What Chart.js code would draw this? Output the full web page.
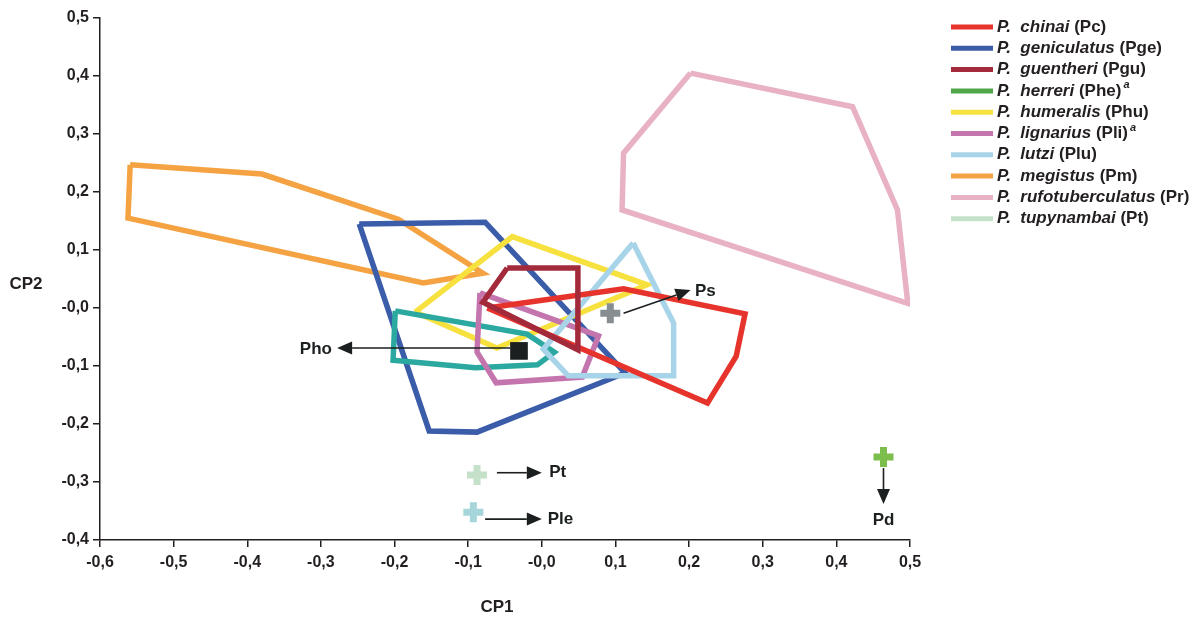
<!DOCTYPE html>
<html>
<head>
<meta charset="utf-8">
<script src="https://cdn.jsdelivr.net/npm/chart.js@4"></script>
<style>
  body { margin: 0; background: #fff; }
  #wrap { width: 1200px; height: 621px; position: relative; }
</style>
</head>
<body>
<div id="wrap"><canvas id="grafica-cp"></canvas></div>
<script>
// ticks
const xTicks = [-0.6, -0.5, -0.4, -0.3, -0.2, -0.1, 0, 0.1, 0.2, 0.3, 0.4, 0.5];
const xTickLabels = ['-0,6', '-0,5', '-0,4', '-0,3', '-0,2', '-0,1', '-0,0', '0,1', '0,2', '0,3', '0,4', '0,5'];
const yTicks = [-0.4, -0.3, -0.2, -0.1, 0, 0.1, 0.2, 0.3, 0.4, 0.5];
const yTickLabels = ['-0,4', '-0,3', '-0,2', '-0,1', '-0,0', '0,1', '0,2', '0,3', '0,4', '0,5'];

// legend
const speciesNames = ['P.  chinai', 'P.  geniculatus', 'P.  guentheri', 'P.  herreri', 'P.  humeralis',
  'P.  lignarius', 'P.  lutzi', 'P.  megistus', 'P.  rufotuberculatus', 'P.  tupynambai'];
const speciesCodes = ['Pc', 'Pge', 'Pgu', 'Phe', 'Phu', 'Pli', 'Plu', 'Pm', 'Pr', 'Pt'];
const speciesNotes = ['', '', '', 'a', '', 'a', '', '', '', ''];

// polygons (CP1, CP2)
const chinai = [[-0.074, 0.0], [0.111, 0.033], [0.276, -0.010], [0.264, -0.083], [0.225, -0.164]];
const geniculatus = [[-0.248, 0.145], [-0.077, 0.148], [0.113, -0.112], [-0.088, -0.214], [-0.153, -0.212]];
const guentheri = [[-0.047, 0.069], [0.049, 0.069], [0.049, -0.072], [-0.080, 0.010]];
const humeralis = [[-0.172, -0.007], [-0.040, 0.123], [0.143, 0.040], [-0.061, -0.069]];
const lignarius = [[-0.084, 0.026], [0.077, -0.048], [0.055, -0.119], [-0.062, -0.129], [-0.088, -0.076]];
const lutzi = [[0.124, 0.112], [0.179, -0.026], [0.179, -0.117], [0.036, -0.117], [0.002, -0.071]];
const megistus = [[-0.559, 0.247], [-0.380, 0.231], [-0.195, 0.153], [-0.080, 0.060], [-0.161, 0.043], [-0.562, 0.155]];
const rufotuberculatus = [[0.202, 0.405], [0.422, 0.347], [0.483, 0.169], [0.497, 0.008], [0.109, 0.169], [0.111, 0.267]];
const tealGroup = [[-0.199, -0.005], [-0.020, -0.045], [0.017, -0.076], [-0.006, -0.098], [-0.090, -0.103], [-0.202, -0.090]];

// single specimens
const singleCodes = ['Pho', 'Ps', 'Pt', 'Ple', 'Pd'];
const singlePoints = [[-0.031, -0.074], [0.093, -0.009], [-0.088, -0.288], [-0.093, -0.352], [0.464, -0.257]];
// arrows: from, to, label position
const arrowFrom = [[-0.043, -0.069], [0.111, -0.009], [-0.061, -0.284], [-0.077, -0.364], [0.464, -0.276]];
const arrowTo = [[-0.278, -0.069], [0.202, 0.031], [0.0, -0.284], [0.0, -0.364], [0.464, -0.338]];
const labelAt = [[-0.285, -0.071], [0.208, 0.028], [0.010, -0.284], [0.008, -0.364], [0.464, -0.366]];

const colores = {
  Pc: '#e6342c', Pge: '#3b5da9', Pgu: '#a32a3b', Phe: '#4fa748', Phu: '#f6e13f',
  Pli: '#c475ad', Plu: '#a8d4e9', Pm: '#f5a342', Pr: '#e8b2c4', Pt: '#c5e1ca', teal: '#2ba9a0'
};
const singleColors = ['#1b1f1f', '#878e92', '#c5e1ca', '#a6d6da', '#7cbe4b'];
const labelAlign = ['right', 'left', 'left', 'left', 'center'];

const toXY = pts => {
  const d = pts.map(p => ({ x: p[0], y: p[1] }));
  d.push({ x: pts[0][0], y: pts[0][1] });
  return d;
};

const polygon = (label, pts, color) => ({
  label: label,
  data: toXY(pts),
  showLine: true,
  borderColor: color,
  backgroundColor: color,
  borderWidth: 5.5,
  pointRadius: 0,
  fill: false,
  borderJoinStyle: 'miter'
});

const singles = singleCodes.map((c, i) => ({
  label: c,
  data: [{ x: singlePoints[i][0], y: singlePoints[i][1] }],
  pointStyle: c === 'Pho' ? 'rect' : 'cross',
  pointRadius: c === 'Pho' ? 12.5 : 10,
  borderWidth: c === 'Pho' ? 0 : 7,
  borderColor: singleColors[i],
  backgroundColor: singleColors[i]
}));

const datasets = [
  ...singles,
  polygon('P. guentheri', guentheri, colores.Pgu),
  polygon('P. chinai', chinai, colores.Pc),
  polygon('P. lutzi', lutzi, colores.Plu),
  polygon('P. lignarius', lignarius, colores.Pli),
  polygon('', tealGroup, colores.teal),
  polygon('P. humeralis', humeralis, colores.Phu),
  polygon('P. geniculatus', geniculatus, colores.Pge),
  polygon('P. megistus', megistus, colores.Pm),
  polygon('P. rufotuberculatus', rufotuberculatus, colores.Pr)
];

const fuente = '"Liberation Sans", Arial, sans-serif';

const anotaciones = {
  id: 'anotaciones',
  afterDatasetsDraw(chart) {
    const ctx = chart.ctx;
    const sx = chart.scales.x, sy = chart.scales.y;
    ctx.save();
    ctx.strokeStyle = '#1b1f1f';
    ctx.fillStyle = '#1b1f1f';
    ctx.lineWidth = 1.6;
    singleCodes.forEach((c, i) => {
      const x1 = sx.getPixelForValue(arrowFrom[i][0]), y1 = sy.getPixelForValue(arrowFrom[i][1]);
      const x2 = sx.getPixelForValue(arrowTo[i][0]), y2 = sy.getPixelForValue(arrowTo[i][1]);
      const ang = Math.atan2(y2 - y1, x2 - x1);
      const head = 15, half = 6.5;
      const bx = x2 - head * Math.cos(ang), by = y2 - head * Math.sin(ang);
      ctx.beginPath();
      ctx.moveTo(x1, y1);
      ctx.lineTo(bx, by);
      ctx.stroke();
      ctx.beginPath();
      ctx.moveTo(x2, y2);
      ctx.lineTo(bx + half * Math.sin(ang), by - half * Math.cos(ang));
      ctx.lineTo(bx - half * Math.sin(ang), by + half * Math.cos(ang));
      ctx.closePath();
      ctx.fill();
      ctx.font = 'bold 17px ' + fuente;
      ctx.textAlign = labelAlign[i];
      ctx.textBaseline = 'middle';
      ctx.fillText(c, sx.getPixelForValue(labelAt[i][0]), sy.getPixelForValue(labelAt[i][1]));
    });
    ctx.restore();
  },
  afterDraw(chart) {
    const ctx = chart.ctx;
    const area = chart.chartArea;
    ctx.save();
    ctx.fillStyle = '#231f20';
    ctx.textBaseline = 'middle';
    // axis titles
    ctx.font = 'bold 17px ' + fuente;
    ctx.textAlign = 'center';
    ctx.fillText('CP1', 497, 607);
    ctx.fillText('CP2', 26, 284);
    // legend
    const lx = area.right + 41;
    speciesNames.forEach((n, i) => {
      const y = 27 + i * 21.3;
      ctx.strokeStyle = colores[speciesCodes[i]];
      ctx.lineWidth = 5;
      ctx.beginPath();
      ctx.moveTo(lx, y);
      ctx.lineTo(lx + 42, y);
      ctx.stroke();
      ctx.textAlign = 'left';
      ctx.font = 'italic bold 17px ' + fuente;
      let tx = lx + 46;
      ctx.fillText(n, tx, y);
      tx += ctx.measureText(n + ' ').width;
      ctx.font = 'bold 17px ' + fuente;
      const code = '(' + speciesCodes[i] + ')';
      ctx.fillText(code, tx, y);
      if (speciesNotes[i]) {
        tx += ctx.measureText(code).width + 2;
        ctx.font = 'italic bold 11px ' + fuente;
        ctx.fillText(speciesNotes[i], tx, y - 6);
      }
    });
    ctx.restore();
  }
};

const ejeComun = {
  type: 'linear',
  grid: {
    display: true,
    drawOnChartArea: false,
    drawTicks: true,
    tickLength: 7,
    color: '#231f20',
    lineWidth: 1.5
  },
  border: { display: true, color: '#231f20', width: 1.5 },
};

new Chart(document.getElementById('grafica-cp').getContext('2d'), {
  type: 'scatter',
  data: { datasets: datasets },
  options: {
    responsive: true,
    maintainAspectRatio: false,
    animation: false,
    layout: { padding: { left: 0, top: 18, right: 290, bottom: 0 } },
    plugins: { legend: { display: false }, tooltip: { enabled: false } },
    scales: {
      x: {
        ...ejeComun,
        min: -0.6,
        max: 0.5,
        afterBuildTicks: s => { s.ticks = xTicks.map(v => ({ value: v })); },
        afterFit: s => { s.height = 81; },
        ticks: {
          color: '#231f20',
          padding: 6,
          maxRotation: 0,
          font: { family: fuente, size: 16, weight: 'bold' },
          callback: (v, i) => xTickLabels[i]
        }
      },
      y: {
        ...ejeComun,
        min: -0.4,
        max: 0.5,
        afterBuildTicks: s => { s.ticks = yTicks.map(v => ({ value: v })); },
        afterFit: s => { s.width = 100; },
        ticks: {
          color: '#231f20',
          padding: 4,
          font: { family: fuente, size: 16, weight: 'bold' },
          callback: (v, i) => yTickLabels[i]
        }
      }
    }
  },
  plugins: [anotaciones]
});
</script>
</body>
</html>
